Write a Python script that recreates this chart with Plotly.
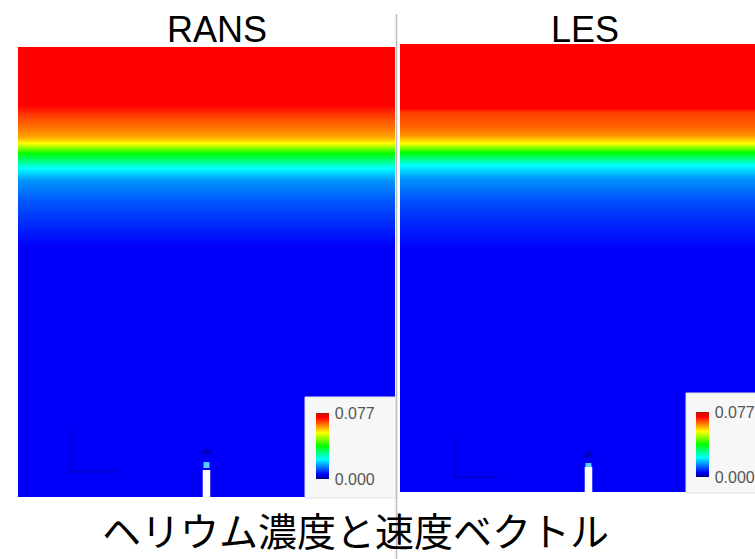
import plotly.graph_objects as go

# ---------------- data ----------------
# vertical helium concentration profiles (height fraction of domain -> concentration)
rans_height = [0.0, 0.56, 0.604, 0.66, 0.704, 0.731, 0.764, 0.787, 0.80, 0.82, 0.849, 0.871, 1.0]
rans_conc   = [0.0054, 0.0054, 0.0082, 0.0116, 0.0158, 0.0231, 0.0385, 0.0539, 0.0598, 0.0633, 0.0674, 0.0716, 0.0716]

les_height = [0.0, 0.545, 0.596, 0.652, 0.701, 0.730, 0.759, 0.779, 0.797, 0.819, 0.848, 0.857, 1.0]
les_conc   = [0.0054, 0.0054, 0.0078, 0.0110, 0.0158, 0.0231, 0.0385, 0.0539, 0.0615, 0.0650, 0.0674, 0.0716, 0.0716]

span_x = [0.0, 1.0]

cmin, cmax = 0.0, 0.077
tick_vals = [0.0, 0.077]
tick_text = ["0.000", "0.077"]

panel_titles = ["RANS", "LES"]
main_title = "ヘリウム濃度と速度ベクトル"

# nozzle (jet inlet) geometry in domain fractions
nozzle_x = [0.49, 0.51]
nozzle_top = [0.06, 0.056]
jet_exit_h = [0.071, 0.058]
jet_arrow_h = [0.10, 0.083]

# axes-orientation glyph (vertical and horizontal legs)
glyph_x = [[0.138, 0.138, 0.263], [0.146, 0.146, 0.257]]
glyph_y = [[0.149, 0.056, 0.056], [0.123, 0.033, 0.033]]

colorscale = [
    [0.00, "rgb(0,0,140)"],
    [0.07, "rgb(0,0,250)"],
    [0.30, "rgb(0,255,255)"],
    [0.50, "rgb(0,255,0)"],
    [0.70, "rgb(255,255,0)"],
    [0.93, "rgb(255,0,0)"],
    [1.00, "rgb(190,20,0)"],
]

W, H = 755, 559


def px(x):
    return x / W


def py(y):
    return 1 - y / H


fig = go.Figure()

profiles = [(rans_height, rans_conc), (les_height, les_conc)]
cb_pos = [dict(x=316, y0=413, y1=479), dict(x=696, y0=412, y1=477)]

for i, (hh, cc) in enumerate(profiles):
    xa = "x" if i == 0 else "x2"
    ya = "y" if i == 0 else "y2"
    z = [[c, c] for c in cc]
    cb = cb_pos[i]
    fig.add_trace(go.Heatmap(
        x=span_x, y=hh, z=z, zmin=cmin, zmax=cmax, zsmooth="best",
        colorscale=colorscale, xaxis=xa, yaxis=ya, hoverinfo="skip",
        showscale=True,
        colorbar=dict(
            x=px(cb["x"]), xanchor="left", xref="paper",
            y=py((cb["y0"] + cb["y1"]) / 2), yanchor="middle", yref="paper",
            thickness=13, thicknessmode="pixels",
            len=cb["y1"] - cb["y0"], lenmode="pixels",
            xpad=0, ypad=0, outlinewidth=0,
            tickvals=tick_vals, ticktext=tick_text,
            ticks="outside", ticklen=3, tickcolor="rgba(0,0,0,0)",
            tickfont=dict(family="Liberation Sans, Arial, sans-serif", size=16, color="#555555"),
        ),
    ))
    # orientation glyph
    fig.add_trace(go.Scatter(
        x=glyph_x[i], y=glyph_y[i], mode="lines", xaxis=xa, yaxis=ya,
        line=dict(color="rgba(0,0,110,0.3)", width=2), hoverinfo="skip", showlegend=False,
    ))
    # jet exit and velocity arrow
    xc = (nozzle_x[0] + nozzle_x[1]) / 2
    fig.add_trace(go.Scatter(
        x=[xc], y=[jet_arrow_h[i]], mode="markers", xaxis=xa, yaxis=ya,
        marker=dict(symbol="triangle-up", size=10, color="rgba(0,0,90,0.4)"),
        hoverinfo="skip", showlegend=False,
    ))
    fig.add_trace(go.Scatter(
        x=[xc], y=[jet_exit_h[i]], mode="markers", xaxis=xa, yaxis=ya,
        marker=dict(symbol="square", size=6, color="rgba(90,230,255,0.9)"),
        hoverinfo="skip", showlegend=False,
    ))

shapes = []
# nozzles (white inlets)
for i in range(2):
    xr = "x" if i == 0 else "x2"
    yr = "y" if i == 0 else "y2"
    shapes.append(dict(type="rect", xref=xr, yref=yr, x0=nozzle_x[0], x1=nozzle_x[1],
                       y0=-0.01, y1=nozzle_top[i], fillcolor="white", line=dict(width=0), layer="above"))
# legend boxes
shapes.append(dict(type="rect", xref="paper", yref="paper", x0=px(305), x1=px(396), y0=py(498), y1=py(397),
                   fillcolor="#f7f7f7", line=dict(color="#e2e2e2", width=1), layer="above"))
shapes.append(dict(type="rect", xref="paper", yref="paper", x0=px(686), x1=px(756), y0=py(493), y1=py(393),
                   fillcolor="#f7f7f7", line=dict(color="#e2e2e2", width=1), layer="above"))
# separator
shapes.append(dict(type="line", xref="paper", yref="paper", x0=px(396.5), x1=px(396.5), y0=0, y1=py(14),
                   line=dict(color="#bdbdbd", width=1.5), layer="above"))

annotations = [
    dict(text=panel_titles[0], x=px(217), y=py(29), xref="paper", yref="paper", showarrow=False,
         xanchor="center", yanchor="middle", font=dict(family="Liberation Sans, Arial, sans-serif", size=36, color="black")),
    dict(text=panel_titles[1], x=px(585), y=py(29), xref="paper", yref="paper", showarrow=False,
         xanchor="center", yanchor="middle", font=dict(family="Liberation Sans, Arial, sans-serif", size=36, color="black")),
    dict(text=main_title, x=px(355), y=py(529), xref="paper", yref="paper", showarrow=False,
         xanchor="center", yanchor="middle", font=dict(family="Noto Sans CJK JP", size=39, color="black")),
]

axis_off = dict(visible=False, showgrid=False, zeroline=False, fixedrange=True)
fig.update_layout(
    width=W, height=H, margin=dict(l=0, r=0, t=0, b=0),
    paper_bgcolor="white", plot_bgcolor="white", showlegend=False,
    xaxis=dict(domain=[px(18), px(395)], range=[0, 1], **axis_off),
    yaxis=dict(domain=[py(497), py(47)], range=[0, 1], **axis_off),
    xaxis2=dict(domain=[px(400), 1.0], range=[0, 355 / 377], anchor="y2", **axis_off),
    yaxis2=dict(domain=[py(492), py(44)], range=[0, 1], anchor="x2", **axis_off),
    shapes=shapes, annotations=annotations,
)

fig.write_html("out.html")
